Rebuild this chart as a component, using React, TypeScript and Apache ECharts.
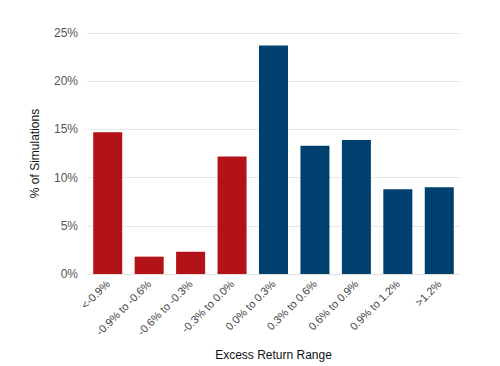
import React, { useEffect, useRef } from "react";
import * as echarts from "echarts";

const categories = [
  "<-0.9%",
  "-0.9% to -0.6%",
  "-0.6% to -0.3%",
  "-0.3% to 0.0%",
  "0.0% to 0.3%",
  "0.3% to 0.6%",
  "0.6% to 0.9%",
  "0.9% to 1.2%",
  ">1.2%",
];
const values = [14.7, 1.8, 2.3, 12.2, 23.7, 13.3, 13.9, 8.8, 9.0];
const negativeCount = 4;
const RED = "#B31217";
const BLUE = "#00406F";

export default function App() {
  const ref = useRef<HTMLDivElement>(null);
  useEffect(() => {
    if (!ref.current) return;
    const chart = echarts.init(ref.current, null, { renderer: "svg" });
    chart.setOption({
      animation: false,
      backgroundColor: "#ffffff",
      grid: { left: 87, right: 40, top: 33, bottom: 91 },
      xAxis: {
        type: "category",
        data: categories,
        name: "Excess Return Range",
        nameLocation: "middle",
        nameGap: 75,
        nameTextStyle: { color: "#111", fontSize: 12, fontFamily: "Liberation Sans" },
        axisLine: { lineStyle: { color: "#e0e0e0" } },
        axisTick: { show: false },
        axisLabel: {
          rotate: 45,
          color: "#444",
          fontSize: 11,
          margin: 8,
          interval: 0,
          fontFamily: "Liberation Sans",
        },
      },
      yAxis: {
        type: "value",
        min: 0,
        max: 25,
        interval: 5,
        name: "% of Simulations",
        nameLocation: "middle",
        nameGap: 46,
        nameTextStyle: { color: "#111", fontSize: 12, fontFamily: "Liberation Sans" },
        axisLine: { show: false },
        axisTick: { show: false },
        splitLine: { lineStyle: { color: "#e8e8e8" } },
        axisLabel: {
          formatter: "{value}%",
          color: "#555",
          fontSize: 12,
          margin: 9,
          fontFamily: "Liberation Sans",
        },
      },
      series: [
        {
          type: "bar",
          data: values.map((v, i) => ({
            value: v,
            itemStyle: { color: i < negativeCount ? RED : BLUE },
          })),
          barCategoryGap: "30%",
        },
      ],
    });
    return () => chart.dispose();
  }, []);
  return (
    <div
      ref={ref}
      style={{ position: "absolute", left: 0, top: 0, width: 500, height: 366 }}
    />
  );
}
